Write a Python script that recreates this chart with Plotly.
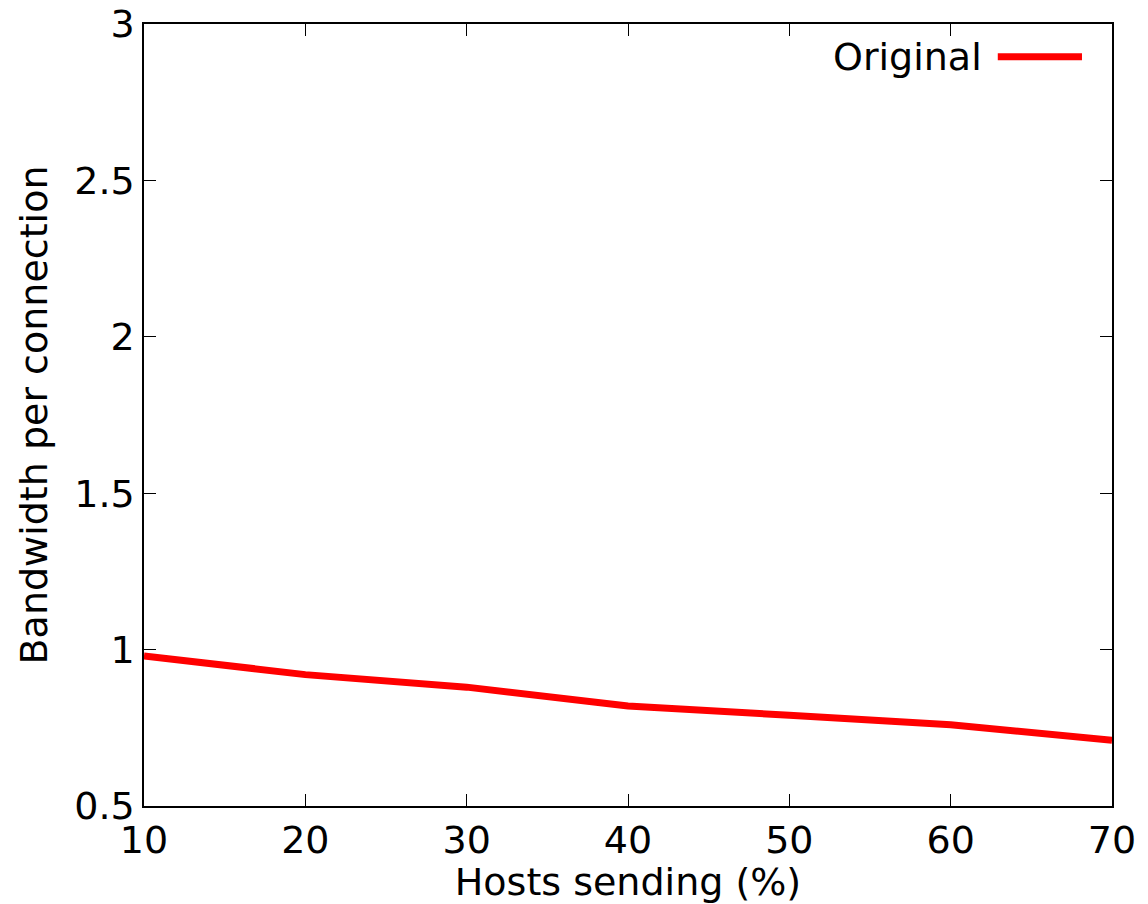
import plotly.graph_objects as go

# Share of hosts sending (%) and the measured bandwidth per connection
hosts_pct = [10, 20, 30, 40, 50, 60, 70]
bandwidth = [0.98, 0.92, 0.88, 0.82, 0.79, 0.76, 0.71]
series_name = "Original"

x_ticks = [10, 20, 30, 40, 50, 60, 70]
y_ticks = [0.5, 1, 1.5, 2, 2.5, 3]
y_tick_text = ["0.5", "1", "1.5", "2", "2.5", "3"]

FONT = "DejaVu Sans"
FS = 38

fig = go.Figure()
fig.add_trace(go.Scatter(
    x=hosts_pct, y=bandwidth, mode="lines", name=series_name,
    line=dict(color="#ff0000", width=7), showlegend=False,
))

axis_common = dict(
    showgrid=False, zeroline=False, showline=True, mirror="allticks",
    linecolor="black", linewidth=1.5, ticks="inside", ticklen=12,
    tickwidth=1, tickcolor="black", automargin=False,
    tickfont=dict(family=FONT, size=FS, color="black"),
)

fig.update_xaxes(
    range=[10, 70], tickvals=x_ticks, ticktext=[str(v) for v in x_ticks],
    title=dict(text="Hosts sending (%)", font=dict(family=FONT, size=FS, color="black")),
    **axis_common,
)
fig.update_yaxes(
    range=[0.5, 3], tickvals=y_ticks, ticktext=y_tick_text,
    title=dict(text="Bandwidth per connection", font=dict(family=FONT, size=FS, color="black")),
    **axis_common,
)

# Legend entry: label followed by a line sample, in the upper right corner
fig.add_annotation(
    xref="paper", yref="paper", x=0.868, y=0.958, xanchor="right", yanchor="middle",
    text=series_name, showarrow=False, font=dict(family=FONT, size=FS, color="black"),
)
fig.add_shape(
    type="line", xref="paper", yref="paper", x0=0.882, x1=0.969, y0=0.958, y1=0.958,
    line=dict(color="#ff0000", width=7),
)

fig.update_layout(
    width=1148, height=904,
    margin=dict(l=144, r=36, t=24, b=98),
    paper_bgcolor="white", plot_bgcolor="white",
    font=dict(family=FONT, size=FS, color="black"),
)

fig.write_html("out.html")
